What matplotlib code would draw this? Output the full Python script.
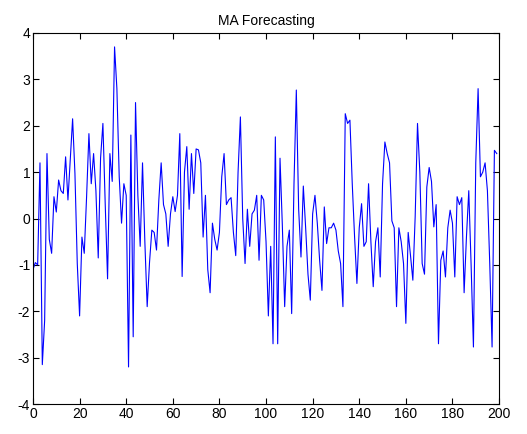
import numpy as np
import matplotlib
matplotlib.use("Agg")
import matplotlib.pyplot as plt

# values, one per time step (0..199)
series = [
    -1.1, -0.95, -1.0, 1.2, -3.15, -2.2, 1.4, -0.45, -0.75, 0.47,
    0.14, 0.83, 0.6, 0.54, 1.33, 0.4, 1.26, 2.15, 0.97, -0.97,
    -2.1, -0.4, -0.75, 0.47, 1.83, 0.75, 1.4, 0.6, -0.85, 1.3,
    2.05, 0.3, -1.3, 1.4, 0.8, 3.7, 2.8, 0.9, -0.1, 0.75,
    0.5, -3.2, 1.8, -2.55, 2.5, 0.5, -0.6, 1.2, -0.5, -1.9,
    -0.95, -0.25, -0.3, -0.68, 0.4, 1.2, 0.3, 0.1, -0.6, 0.1,
    0.47, 0.15, 0.5, 1.83, -1.25, 1.0, 1.55, 0.2, 1.4, 0.54,
    1.5, 1.48, 1.2, -0.4, 0.5, -1.1, -1.6, -0.1, -0.45, -0.68,
    -0.3, 0.9, 1.4, 0.3, 0.4, 0.45, -0.3, -0.8, 1.0, 2.19,
    0.0, -0.97, 0.2, -0.6, 0.1, 0.18, 0.5, -0.9, 0.5, 0.4,
    -0.5, -2.1, -0.6, -2.7, 1.76, -2.7, 1.3, -0.15, -1.9, -0.6,
    -0.25, -2.05, 0.75, 2.77, 0.2, -0.83, 0.7, -0.2, -1.2, -1.76,
    0.1, 0.5, -0.1, -0.9, -1.55, 0.25, -0.54, -0.2, -0.2, -0.1,
    -0.25, -0.7, -0.97, -1.9, 2.26, 2.05, 2.12, 0.75, -0.4, -1.4,
    -0.2, 0.32, -0.6, -0.5, 0.75, -0.5, -1.47, -0.5, -0.2, -1.26,
    0.75, 1.65, 1.4, 1.2, -0.05, -0.2, -1.9, -0.2, -0.5, -0.97,
    -2.26, -0.3, -0.8, -1.33, 0.04, 2.05, 1.0, -0.97, -1.2, 0.68,
    1.1, 0.8, -0.18, 0.3, -2.7, -0.9, -0.7, -1.26, -0.2, 0.18,
    -0.1, -1.26, 0.47, 0.3, 0.45, -1.6, -0.4, 0.6, -1.0, -2.77,
    1.2, 2.8, 0.9, 1.0, 1.2, 0.6, -0.97, -2.77, 1.47, 1.4,
]
x_ticks = [0, 20, 40, 60, 80, 100, 120, 140, 160, 180, 200]
y_ticks = [-4, -3, -2, -1, 0, 1, 2, 3, 4]

plt.rcParams['font.family'] = ['Liberation Sans', 'DejaVu Sans']
plt.rcParams['axes.unicode_minus'] = False

fig = plt.figure(figsize=(5.27, 4.34), dpi=100)
ax = fig.add_axes([0.0626, 0.069, 0.8844, 0.855])

ax.plot(np.arange(len(series)), series, color='#0000ff', linewidth=0.8)

ax.set_xlim(0, 200)
ax.set_ylim(-4, 4)
ax.set_xticks(x_ticks)
ax.set_yticks(y_ticks)
ax.tick_params(direction='in', top=True, right=True, length=4, width=0.8,
               labelsize=10, pad=2)
for s in ax.spines.values():
    s.set_linewidth(0.8)

ax.set_title("MA Forecasting", fontsize=10, pad=6)

fig.savefig("out.png", dpi=100)
